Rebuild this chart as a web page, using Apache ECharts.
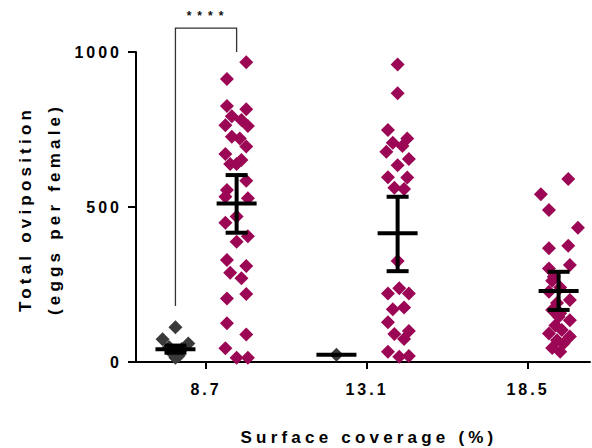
<!DOCTYPE html>
<html>
<head>
<meta charset="utf-8">
<script src="https://cdn.jsdelivr.net/npm/echarts@6/dist/echarts.min.js"></script>
<style>
  html, body { margin: 0; padding: 0; background: #fff; }
  #chart { width: 592px; height: 448px; }
  #chart text { letter-spacing: 3px; }
  #chart text[style*="17px"] { letter-spacing: 4.2px; }
  #chart text[style*="12px"] { letter-spacing: 6px; }
</style>
</head>
<body>
<div id="chart"></div>
<script>
// ---------- data ----------
const categories = ['8.7', '13.1', '18.5'];
const yTicks = [0, 500, 1000];

// dark (control) group: values and horizontal jitter (hundredths of a category step)
const ctrl_8_7 = [112, 73, 60, 48, 42, 35, 28, 20, 14];
const ctrlJit_8_7 = [0, -8, 8, -4, 4, 0, -2, 2, 0];
const ctrl_13_1 = [23];
const ctrlJit_13_1 = [0];
const ctrl_18_5 = [];
const ctrlJit_18_5 = [];

// magenta group
const trt_8_7 = [967, 913, 826, 815, 793, 764, 781, 761, 727, 721, 695, 671, 639, 639, 652, 585, 555,
                 533, 528, 469, 449, 406, 388, 329, 310, 288, 270, 219, 205, 125, 89, 44, 14, 14];
const trtJit_8_7 = [6, -6, -6, 6, -3, -7, 3, 7, -3, 2, 6, -7, -4, 0, 3, 6, -6,
                    -7, 7, 0, -7, 7, 0, -6, 6, -4, 3, 6, -6, -6, 6, -7, 0, 7];
const trt_13_1 = [960, 867, 748, 721, 707, 697, 678, 655, 635, 596, 595, 562, 558, 326,
                  221, 238, 221, 170, 176, 128, 90, 74, 100, 33, 17, 19];
const trtJit_13_1 = [0, 0, -6, 6, -3, 3, -7, 7, 0, -6, 6, -2, 4, 0,
                     -6, 1, 7, -3, 4, -6, -2, 4, 7, -6, 1, 7];
const trt_18_5 = [590, 541, 490, 433, 375, 367, 313, 302, 275, 262, 240, 227, 200, 190, 168,
                  157, 146, 135, 118, 103, 92, 82, 70, 60, 33, 45];
const trtJit_18_5 = [6, -11, -6, 12, 6, -6, 7, -6, -3, -4, 1, -6, 7, -1, -4,
                     1, 0, 7, -2, 2, -6, 7, -1, 3, 1, -4];

// mean and error-bar limits (null = not shown)
const ctrlMean = [41, 23, null];
const ctrlLow  = [30, 23, null];
const ctrlHigh = [53, 23, null];
const trtMean = [511, 415, 229];
const trtLow  = [417, 293, 168];
const trtHigh = [603, 533, 291];

// significance bracket (8.7: control vs magenta)
const sigLabel = '****';
const sigTop = 1077, sigLeftEnd = 181, sigRightEnd = 1000;

// ---------- build ----------
const SHIFT = 0.19;
const ctrlVals = [ctrl_8_7, ctrl_13_1, ctrl_18_5];
const ctrlJits = [ctrlJit_8_7, ctrlJit_13_1, ctrlJit_18_5];
const trtVals = [trt_8_7, trt_13_1, trt_18_5];
const trtJits = [trtJit_8_7, trtJit_13_1, trtJit_18_5];

function pts(vals, jits, shift) {
  const out = [];
  vals.forEach((arr, ci) => {
    arr.forEach((v, i) => out.push([ci + 1 + shift + jits[ci][i] / 100, v]));
  });
  return out;
}
function bars(mean, low, high, shift) {
  const out = [];
  mean.forEach((m, ci) => { if (m != null) out.push([ci + 1 + shift, m, low[ci], high[ci]]); });
  return out;
}

const FONT = 'Liberation Sans, Arial, sans-serif';
const chart = echarts.init(document.getElementById('chart'), null, { renderer: 'svg' });

function errRender(params, api) {
  const x = api.value(0), m = api.value(1), lo = api.value(2), hi = api.value(3);
  const pm = api.coord([x, m]);
  const st = { stroke: '#000', lineWidth: 4 };
  const hw = 20, cw = 11;
  const ch = [{ type: 'line', shape: { x1: pm[0] - hw, y1: pm[1], x2: pm[0] + hw, y2: pm[1] }, style: st }];
  if (hi > lo) {
    const pl = api.coord([x, lo]), ph = api.coord([x, hi]);
    ch.push({ type: 'line', shape: { x1: pm[0], y1: pl[1], x2: pm[0], y2: ph[1] }, style: st });
    ch.push({ type: 'line', shape: { x1: pm[0] - cw, y1: pl[1], x2: pm[0] + cw, y2: pl[1] }, style: st });
    ch.push({ type: 'line', shape: { x1: pm[0] - cw, y1: ph[1], x2: pm[0] + cw, y2: ph[1] }, style: st });
  }
  return { type: 'group', children: ch };
}

function sigRender(params, api) {
  const xl = api.value(0), xr = api.value(1);
  const t = api.coord([xl, api.value(2)]);
  const lb = api.coord([xl, api.value(3)]);
  const rt = api.coord([xr, api.value(2)]);
  const rb = api.coord([xr, api.value(4)]);
  const st = { stroke: '#333', lineWidth: 1.3, fill: null };
  return {
    type: 'group',
    children: [
      { type: 'polyline', shape: { points: [[lb[0], lb[1]], [t[0], t[1]], [rt[0], rt[1]], [rb[0], rb[1]]] }, style: st },
      { type: 'text', x: (t[0] + rt[0]) / 2 + 2, y: t[1] - 12,
        style: { text: sigLabel, fill: '#111', font: 'bold 12px ' + FONT, align: 'center', verticalAlign: 'middle' } }
    ]
  };
}

const option = {
  animation: false,
  backgroundColor: '#fff',
  grid: { left: 136, right: 2, top: 52, bottom: 86 },
  xAxis: {
    type: 'value', min: 0.565, max: 3.385,
    splitLine: { show: false },
    axisLine: { show: true, lineStyle: { color: '#000', width: 2 } },
    axisTick: { show: true, customValues: [1, 2, 3], length: 7, lineStyle: { color: '#000', width: 2 } },
    axisLabel: {
      customValues: [1, 2, 3], margin: 19,
      formatter: v => categories[Math.round(v) - 1] || '',
      color: '#000', fontSize: 16, fontWeight: 'bold', fontFamily: FONT
    }
  },
  yAxis: {
    type: 'value', min: yTicks[0], max: yTicks[yTicks.length - 1], interval: 500,
    splitLine: { show: false },
    axisLine: { show: true, lineStyle: { color: '#000', width: 2 } },
    axisTick: { show: true, length: 8, lineStyle: { color: '#000', width: 2 } },
    axisLabel: { margin: 14, color: '#000', fontSize: 16, fontWeight: 'bold', fontFamily: FONT,
                 formatter: v => String(v) }
  },
  graphic: [
    { type: 'text', x: 40, y: 209, rotation: Math.PI / 2,
      style: { text: 'Total oviposition\n(eggs per female)', font: 'bold 17px ' + FONT, fill: '#000',
               align: 'center', verticalAlign: 'middle', lineHeight: 29 } },
    { type: 'text', x: 369, y: 437,
      style: { text: 'Surface coverage (%)', font: 'bold 17px ' + FONT, fill: '#000',
               align: 'center', verticalAlign: 'middle' } }
  ],
  series: [
    { type: 'scatter', name: 'control', data: pts(ctrlVals, ctrlJits, -SHIFT), symbol: 'diamond', symbolSize: 14,
      itemStyle: { color: '#3a3a3a', opacity: 1 }, z: 2 },
    { type: 'scatter', name: 'treated', data: pts(trtVals, trtJits, SHIFT), symbol: 'diamond', symbolSize: 14,
      itemStyle: { color: '#9b0655', opacity: 1 }, z: 2 },
    { type: 'custom', name: 'ctrlErr', data: bars(ctrlMean, ctrlLow, ctrlHigh, -SHIFT), renderItem: errRender, z: 5 },
    { type: 'custom', name: 'trtErr', data: bars(trtMean, trtLow, trtHigh, SHIFT), renderItem: errRender, z: 5 },
    { type: 'custom', name: 'sig', data: [[1 - SHIFT, 1 + SHIFT, sigTop, sigLeftEnd, sigRightEnd]],
      renderItem: sigRender, clip: false, z: 6 }
  ]
};
chart.setOption(option);
</script>
</body>
</html>
